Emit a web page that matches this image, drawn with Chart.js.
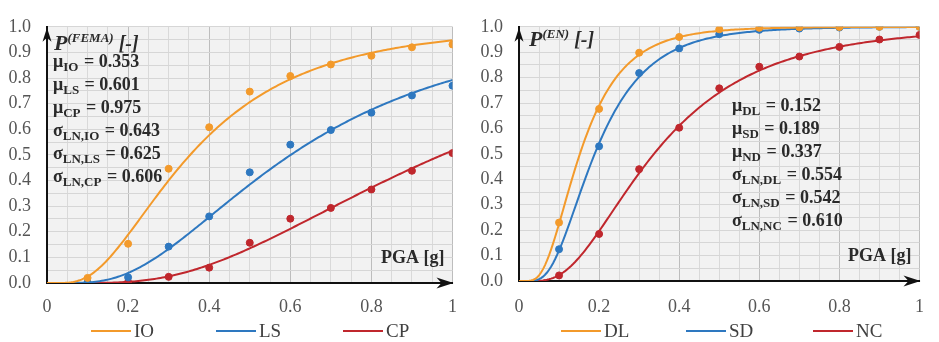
<!DOCTYPE html>
<html>
<head>
<meta charset="utf-8">
<script src="https://cdn.jsdelivr.net/npm/chart.js@4.4.1/dist/chart.umd.min.js"></script>
<style>
  body { margin: 0; background: #fff; }
  .panel { position: absolute; top: 0; }
</style>
</head>
<body>
<div class="panel" style="left:0"><canvas id="femaChart" width="470" height="342"></canvas></div>
<div class="panel" style="left:470px"><canvas id="enChart" width="469" height="342"></canvas></div>
<script>
// PGA levels of the analysed records
const pga = [0.1, 0.2, 0.3, 0.4, 0.5, 0.6, 0.7, 0.8, 0.9, 1.0];

// exceedance probabilities, FEMA limit states
const femaIO = [0.02, 0.153, 0.446, 0.608, 0.747, 0.808, 0.853, 0.887, 0.92, 0.931];
const femaLS = [0.003, 0.022, 0.142, 0.26, 0.432, 0.54, 0.597, 0.665, 0.732, 0.77];
const femaCP = [0.0, 0.003, 0.024, 0.06, 0.157, 0.251, 0.293, 0.365, 0.438, 0.507];

// exceedance probabilities, EN limit states
const enDL = [0.23, 0.677, 0.898, 0.96, 0.99, 0.996, 0.998, 0.999, 1.0, 1.0];
const enSD = [0.125, 0.53, 0.818, 0.915, 0.971, 0.988, 0.993, 0.997, 1.0, 1.0];
const enNC = [0.022, 0.185, 0.44, 0.603, 0.758, 0.843, 0.883, 0.921, 0.95, 0.968];

// fitted lognormal parameters
const femaNames = ["IO", "LS", "CP"];
const femaMedian = [0.353, 0.601, 0.975];
const femaBeta = [0.643, 0.625, 0.606];
const enNames = ["DL", "SD", "NC"];
const enMuNames = ["DL", "SD", "ND"];
const enMedian = [0.152, 0.189, 0.337];
const enBeta = [0.554, 0.542, 0.610];

const colors = ["#f39a2b", "#2e78c0", "#c0272d"];
const serif = "'Liberation Serif', 'DejaVu Serif', serif";

// standard normal CDF (Abramowitz & Stegun 7.1.26)
function normCdf(z) {
  const t = 1 / (1 + 0.3275911 * Math.abs(z) / Math.SQRT2);
  const y = 1 - (((((1.061405429 * t - 1.453152027) * t) + 1.421413741) * t - 0.284496736) * t + 0.254829592) * t * Math.exp(-z * z / 2);
  return z >= 0 ? 0.5 * (1 + y) : 0.5 * (1 - y);
}

function fragility(median, beta) {
  const pts = [{ x: 0, y: 0 }];
  for (let i = 1; i <= 200; i++) {
    const x = i / 200;
    pts.push({ x: x, y: normCdf(Math.log(x / median) / beta) });
  }
  return pts;
}

// draws "μ_IO = 0.353" style lines with subscripts
function mathLine(ctx, x, y, sym, sub, value) {
  ctx.fillStyle = "#2a2a2a";
  ctx.textBaseline = "alphabetic";
  ctx.textAlign = "left";
  ctx.font = "bold 18px " + serif;
  ctx.fillText(sym, x, y + 6);
  x += ctx.measureText(sym).width;
  ctx.font = "bold 13px " + serif;
  ctx.fillText(sub, x, y + 10);
  x += ctx.measureText(sub).width + 1;
  ctx.font = "bold 18px " + serif;
  ctx.fillText(" = " + value, x, y + 6);
}

function makeChart(id, cfg) {
  const datasets = [];
  cfg.points.forEach((vals, i) => {
    datasets.push({
      label: cfg.names[i],
      data: fragility(cfg.median[i], cfg.beta[i]),
      showLine: true,
      borderColor: colors[i],
      borderWidth: 2,
      pointRadius: 0,
      tension: 0
    });
    datasets.push({
      label: cfg.names[i] + " points",
      data: pga.map((x, j) => ({ x: x, y: vals[j] })),
      backgroundColor: colors[i],
      borderColor: colors[i],
      pointRadius: 3.5,
      pointHoverRadius: 3.5
    });
  });

  const decor = {
    id: "decor",
    beforeDraw(chart) {
      const { ctx, chartArea: a } = chart;
      ctx.save();
      ctx.fillStyle = "#f2f2f2";
      ctx.fillRect(a.left, a.top, a.right - a.left, a.bottom - a.top);
      ctx.restore();
    },
    afterDraw(chart) {
      const { ctx, chartArea: a } = chart;
      ctx.save();
      // axis arrows
      ctx.fillStyle = "#111";
      ctx.beginPath();
      ctx.moveTo(a.left, a.top + 1);
      ctx.lineTo(a.left - 4.5, a.top + 15);
      ctx.lineTo(a.left, a.top + 11);
      ctx.lineTo(a.left + 4.5, a.top + 15);
      ctx.closePath();
      ctx.fill();
      ctx.beginPath();
      ctx.moveTo(a.right + 1, a.bottom);
      ctx.lineTo(a.right - 16, a.bottom - 5.5);
      ctx.lineTo(a.right - 11, a.bottom);
      ctx.lineTo(a.right - 16, a.bottom + 5.5);
      ctx.closePath();
      ctx.fill();

      // axis titles
      ctx.fillStyle = "#2a2a2a";
      ctx.textBaseline = "alphabetic";
      let x = a.left + cfg.titleDx;
      const yb = a.top + cfg.titleDy + 7;
      ctx.font = "italic bold 22px " + serif;
      ctx.fillText("P", x, yb);
      x += ctx.measureText("P").width;
      ctx.font = "italic bold 13px " + serif;
      ctx.fillText(cfg.sup, x, yb - 8);
      x += ctx.measureText(cfg.sup).width + 5;
      ctx.font = "italic bold 20px " + serif;
      ctx.fillText("[-]", x, yb);
      ctx.font = "bold 18px " + serif;
      ctx.textAlign = "right";
      ctx.fillText("PGA [g]", a.right - 8, a.bottom - 20);
      ctx.textAlign = "left";

      // parameter block
      cfg.median.forEach((m, i) => {
        mathLine(ctx, cfg.textX, cfg.textY + i * 23, "\u03bc", cfg.muNames[i], m.toFixed(3));
      });
      cfg.beta.forEach((b, i) => {
        mathLine(ctx, cfg.textX, cfg.textY + (i + 3) * 23, "\u03c3", "LN," + cfg.names[i], b.toFixed(3));
      });

      // legend
      const legX = [91, 216, 343];
      cfg.names.forEach((n, i) => {
        ctx.strokeStyle = colors[i];
        ctx.lineWidth = 2;
        ctx.beginPath();
        ctx.moveTo(legX[i], 331);
        ctx.lineTo(legX[i] + 40, 331);
        ctx.stroke();
        ctx.fillStyle = "#404040";
        ctx.font = "19px " + serif;
        ctx.textBaseline = "middle";
        ctx.fillText(n, legX[i] + 43, 332);
      });
      ctx.restore();
    }
  };

  return new Chart(document.getElementById(id), {
    type: "scatter",
    data: { datasets: datasets },
    plugins: [decor],
    options: {
      responsive: false,
      animation: false,
      layout: { padding: { left: 0, top: cfg.top, right: cfg.right, bottom: 0 } },
      plugins: { legend: { display: false }, tooltip: { enabled: false } },
      scales: {
        x: {
          type: "linear",
          min: 0,
          max: 1,
          afterFit(s) { s.height = cfg.xHeight; },
          border: { color: "#111", width: 2 },
          grid: {
            drawTicks: false,
            color: (c) => Math.round(c.tick.value * 100) % 20 === 0 ? "#bdbdbd" : "#d9d9d9"
          },
          ticks: {
            stepSize: 0.05,
            autoSkip: false,
            maxRotation: 0,
            padding: cfg.xPad,
            color: "#555",
            font: { family: serif, size: 18 },
            callback: (v) => {
              const r = Math.round(v * 100);
              if (r % 20 !== 0) return "";
              return r === 0 ? "0" : r === 100 ? "1" : (r / 100).toFixed(1);
            }
          }
        },
        y: {
          min: 0,
          max: 1,
          afterFit(s) { s.width = cfg.yWidth; },
          border: { color: "#111", width: 2 },
          grid: { drawTicks: false, color: "#d6d6d6" },
          ticks: {
            stepSize: 0.05,
            autoSkip: false,
            padding: 16,
            color: "#555",
            font: { family: serif, size: 18 },
            callback: (v) => Math.round(v * 100) % 10 === 0 ? v.toFixed(1) : ""
          }
        }
      }
    }
  });
}

makeChart("femaChart", {
  points: [femaIO, femaLS, femaCP],
  names: femaNames,
  muNames: femaNames,
  median: femaMedian,
  beta: femaBeta,
  sup: "(FEMA)",
  top: 17, right: 12, xHeight: 59, yWidth: 47, xPad: 13,
  titleDx: 7, titleDy: 16,
  textX: 53, textY: 61
});

makeChart("enChart", {
  points: [enDL, enSD, enNC],
  names: enNames,
  muNames: enMuNames,
  median: enMedian,
  beta: enBeta,
  sup: "(EN)",
  top: 13, right: 9, xHeight: 61, yWidth: 49, xPad: 15,
  titleDx: 10, titleDy: 12,
  textX: 262, textY: 105
});
</script>
</body>
</html>
